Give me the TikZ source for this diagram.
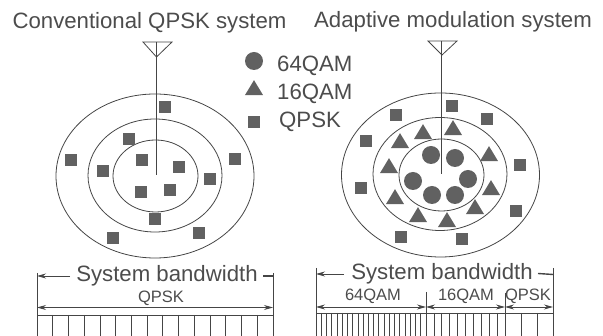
\documentclass[tikz,border=0pt]{standalone}
\usepackage{fontspec}
\setmainfont{Liberation Sans}
\usetikzlibrary{shapes.geometric,arrows.meta}
\definecolor{ink}{gray}{0.27}
\definecolor{txt}{gray}{0.3}
\definecolor{mark}{gray}{0.38}
\tikzset{
  ring/.style={draw=ink,line width=0.8pt,ellipse,inner sep=0pt,minimum width=#1},
  sqm/.style={fill=mark,rectangle,inner sep=0pt,minimum size=12pt},
  trm/.style={fill=mark,isosceles triangle,isosceles triangle apex angle=62,shape border rotate=90,inner sep=0pt,minimum height=15pt,minimum width=16pt},
  cim/.style={fill=mark,circle,inner sep=0pt,minimum size=18pt},
  big/.style={text=txt,inner sep=0pt,font=\fontsize{22.2}{24}\selectfont,anchor=base},
  small/.style={text=txt,inner sep=0pt,font=\fontsize{16.5}{18}\selectfont,anchor=base},
  wire/.style={draw=ink,line width=0.8pt},
  dim/.style={draw=ink,line width=0.8pt,-{Stealth[length=9pt,width=5pt]}},
  ddim/.style={draw=ink,line width=0.8pt,{Stealth[length=9pt,width=5pt]}-{Stealth[length=9pt,width=5pt]}}
}
\begin{document}
\begin{tikzpicture}[x=1pt,y=-1pt]
\useasboundingbox (0,0) rectangle (603,336);
% titles
\node[big] (t1) at (149.5,29) {Conventional QPSK system};
\node[big] (t2) at (453,28) {Adaptive modulation system};
% left cell
\node[ring=198pt,minimum height=164pt] (lo) at (155,176) {};
\node[ring=134pt,minimum height=113pt] (lm) at (155,175.5) {};
\node[ring=85pt,minimum height=72pt] (li) at (155.5,176) {};
\coordinate (lta) at (143,42); \coordinate (ltb) at (172,42); \coordinate (ltc) at (156.5,57);
\coordinate (ltop) at (156,42); \coordinate (lend) at (156,175);
\draw[wire] (lta) -- (ltb) -- (ltc) -- cycle;
\draw[wire] (ltop) -- (lend);
\foreach \x/\y [count=\i] in {165/107,129/139,71/160,103/171,142/160,179/167,210/179,235/159,141/192,170/190,155/219,113/238,199/233}
  \node[sqm] (ls\i) at (\x,\y) {};
% right cell
\node[ring=198pt,minimum height=164pt] (ro) at (440.5,175) {};
\node[ring=134pt,minimum height=113pt] (rm) at (440,174) {};
\node[ring=85pt,minimum height=72pt] (ri) at (441.5,175) {};
\coordinate (rta) at (428,41); \coordinate (rtb) at (457,41); \coordinate (rtc) at (442,55);
\coordinate (rtop) at (441.5,41); \coordinate (rend) at (441.5,174);
\draw[wire] (rta) -- (rtb) -- (rtc) -- cycle;
\draw[wire] (rtop) -- (rend);
\foreach \x/\y [count=\i] in {452/106,396/115,487/119,366/141,520/165,361/188,516/211,401/237,462/239}
  \node[sqm] (rs\i) at (\x,\y) {};
\foreach \x/\y [count=\i] in {423/134,453/130,400/143,489/156,389/168,491/190,395/199,475/209,418/217,447/222}
  \node[trm] (rt\i) at (\x,\y) {};
\foreach \x/\y [count=\i] in {431/155,455/158,413/181,468/179,432/195,455/195}
  \node[cim] (rc\i) at (\x,\y) {};
% legend
\node[cim] (k1) at (254,61) {};
\node[trm] (k2) at (254,90) {};
\node[sqm] (k3) at (254,122) {};
\node[big,anchor=base west] (k1t) at (277,72) {64QAM};
\node[big,anchor=base west] (k2t) at (277,100) {16QAM};
\node[big,anchor=base west] (k3t) at (279,128) {QPSK};
% bottom left
\node[big] (lb) at (167,282) {System bandwidth};
\node[small] (lq) at (161,303) {QPSK};
\coordinate (la) at (37,273); \coordinate (laa) at (37,336);
\coordinate (lz) at (273,273); \coordinate (lzz) at (273,336);
\draw[wire] (la) -- (laa);
\draw[wire] (lz) -- (lzz);
\coordinate (lba) at (70,276); \coordinate (lbb) at (37,276);
\coordinate (lbc) at (263,276); \coordinate (lbd) at (273,276);
\draw[dim] (lba) -- (lbb);
\draw[wire,line width=1.4pt] (lbc) -- (lbd);
\coordinate (lqa) at (37,307.5); \coordinate (lqb) at (273,307.5);
\draw[ddim] (lqa) -- (lqb);
\coordinate (lca) at (37,315); \coordinate (lcb) at (273,315);
\draw[wire] (lca) -- (lcb);
\foreach \i in {1,...,14} \draw[wire] ({37+\i*15.73},315) -- ({37+\i*15.73},336);
% bottom right
\node[big] (rb) at (442,280) {System bandwidth};
\node[small] (r64) at (373,301) {64QAM};
\node[small] (r16) at (466,301) {16QAM};
\node[small] (rq) at (528,301) {QPSK};
\coordinate (ra) at (316,268); \coordinate (raa) at (316,336);
\coordinate (rz) at (553,268); \coordinate (rzz) at (553,336);
\draw[wire] (ra) -- (raa);
\draw[wire] (rz) -- (rzz);
\coordinate (rba) at (344,274); \coordinate (rbb) at (316,274);
\coordinate (rbc) at (538,273.5); \coordinate (rbd) at (553,274.5);
\draw[dim] (rba) -- (rbb);
\draw[wire,line width=1.4pt] (rbc) -- (rbd);
\coordinate (d1) at (426,292); \coordinate (d1b) at (426,336);
\coordinate (d2) at (505,293); \coordinate (d2b) at (505,336);
\draw[wire] (d1) -- (d1b);
\draw[wire] (d2) -- (d2b);
\coordinate (m1) at (316,307); \coordinate (m2) at (426,307); \coordinate (m3) at (505,307); \coordinate (m4) at (553,307);
\draw[ddim] (m1) -- (m2);
\draw[ddim] (m2) -- (m3);
\draw[ddim] (m3) -- (m4);
\coordinate (rca) at (316,313); \coordinate (rcb) at (553,313);
\draw[wire] (rca) -- (rcb);
\foreach \i in {1,...,20} \draw[wire] ({316+\i*5.24},313) -- ({316+\i*5.24},336);
\foreach \i in {1,...,9} \draw[wire] ({426+\i*7.9},313) -- ({426+\i*7.9},336);
\foreach \i in {1,2} \draw[wire] ({505+\i*16},313) -- ({505+\i*16},336);
\end{tikzpicture}
\end{document}
